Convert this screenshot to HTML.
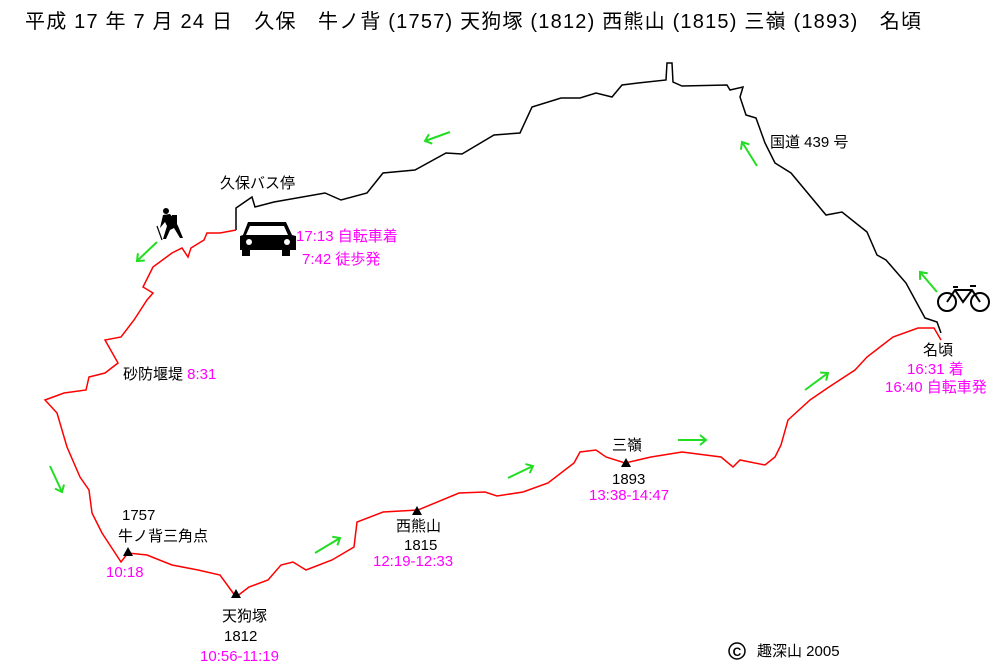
<!DOCTYPE html>
<html><head><meta charset="utf-8"><style>
html,body{margin:0;padding:0;background:#fff;}
#c{position:relative;width:1000px;height:666px;overflow:hidden;font-family:"Liberation Sans","Noto Sans CJK JP",sans-serif;}
.t{position:absolute;font-size:15px;line-height:17px;white-space:nowrap;color:#000;}
.m{color:#f0f;}
svg{position:absolute;left:0;top:0;}
</style></head><body><div id="c">
<svg width="1000" height="666">
<defs><marker id="a" markerUnits="userSpaceOnUse" markerWidth="12" markerHeight="12" refX="9" refY="6" orient="auto"><path d="M3,1 L9,6 L3,11" fill="none" stroke="#2d2" stroke-width="2"/></marker></defs>
<polyline fill="none" stroke="#000" stroke-width="1.5" points="236,230 236,208 252,197 255,207 274,202 325,193 341,200 367,193 383,173 415,170 446,153 462,154 494,135 520,133 532,107 561,98 580,98 596,93 612,97 622,85 638,83 666,80 667,63 672,63 673,82 682,86 727,85 730,90 743,87 740,97 746,115 756,118 765,143 775,163 791,173 826,215 842,212 867,232 877,255 886,260 906,283 925,318 937,322 941,333"/>
<polyline fill="none" stroke="#f00" stroke-width="1.5" points="236,230 220,233 207,233 204,240 191,248 188,257 182,248 172,253 153,267 143,287 153,293 147,300 134,320 121,337 105,340 118,363 105,373 89,377 86,390 64,393 45,400 57,413 67,447 80,477 89,490 92,513 102,533 121,562 128,553 147,555 172,565 198,570 220,575 236,597 249,587 268,580 281,565 293,562 306,570 332,560 354,547 357,522 383,512 418,510 459,493 485,492 497,496 523,492 548,483 574,463 580,452 596,450 606,457 625,463 651,457 682,452 721,457 733,467 740,460 765,465 775,457 781,445 788,420 810,400 829,387 855,370 867,357 880,347 893,337 918,328 934,328 941,340"/>
<g stroke="#2d2" stroke-width="2" fill="none">
<line x2="425" y2="141" x1="450" y1="132" marker-end="url(#a)"/>
<line x2="137" y2="261" x1="157" y1="242" marker-end="url(#a)"/>
<line x2="62" y2="492" x1="50" y1="466" marker-end="url(#a)"/>
<line x2="340" y2="538" x1="315" y1="553" marker-end="url(#a)"/>
<line x2="533" y2="466" x1="508" y1="478" marker-end="url(#a)"/>
<line x2="706" y2="440" x1="678" y1="440" marker-end="url(#a)"/>
<line x2="828" y2="373" x1="805" y1="390" marker-end="url(#a)"/>
<line x2="742" y2="142" x1="757" y1="166" marker-end="url(#a)"/>
<line x2="920" y2="272" x1="937" y1="292" marker-end="url(#a)"/>
</g>
<g fill="#000">
<polygon points="128,547 123,556 133,556"/><polygon points="236,589 231,598 241,598"/><polygon points="417,506 412,515 422,515"/><polygon points="626,458 621,467 631,467"/>
<path d="M248,222 L286,222 L292,235 L296,236 L296,250 L240,250 L240,236 L243,235 Z"/>
<rect x="242" y="250" width="8" height="6"/><rect x="282" y="250" width="8" height="6"/>
<path d="M250,226 L284,226 L288,235 L246,235 Z" fill="#fff"/>
<circle cx="249" cy="242" r="3" fill="#fff"/><circle cx="287" cy="242" r="3" fill="#fff"/>
<circle cx="166" cy="211" r="3"/>
<path d="M163,215 L170,214 L175,220 L178,226 L183,238 L180,238 L174,228 L170,230 L166,239 L163,239 L167,226 L165,222 L160,228 Z"/>
<rect x="172" y="215" width="5" height="9"/>
<line x1="157" y1="226" x2="162" y2="240" stroke="#000" stroke-width="1.2"/>
</g>
<g fill="none" stroke="#000" stroke-width="2">
<circle cx="947" cy="302" r="9"/><circle cx="980" cy="302" r="9"/>
<path d="M947,302 L955,290 L972,290 L980,302 M955,290 L963,302 L972,290 M953,287 L958,287 M970,286 L976,286"/>
</g>
<circle cx="737" cy="651" r="8" fill="none" stroke="#000" stroke-width="1.5"/>
<text x="737" y="656" font-size="12" text-anchor="middle" font-family="Liberation Sans" font-weight="bold">C</text>
</svg>
<div class="t" style="left:25px;top:10px;font-size:20px;line-height:24px;letter-spacing:1.2px;">平成 17 年 7 月 24 日　久保　牛ノ背 (1757) 天狗塚 (1812) 西熊山 (1815) 三嶺 (1893)　名頃</div>
<div class="t" style="left:220px;top:175px;">久保バス停</div>
<div class="t m" style="left:296px;top:228px;">17:13 自転車着</div>
<div class="t m" style="left:302px;top:251px;">7:42 徒歩発</div>
<div class="t" style="left:770px;top:134px;">国道 439 号</div>
<div class="t" style="left:123px;top:366px;">砂防堰堤 <span class="m">8:31</span></div>
<div class="t" style="left:923px;top:342px;">名頃</div>
<div class="t m" style="left:907px;top:361px;">16:31 着</div>
<div class="t m" style="left:885px;top:379px;">16:40 自転車発</div>
<div class="t" style="left:612px;top:437px;">三嶺</div>
<div class="t" style="left:612px;top:471px;">1893</div>
<div class="t m" style="left:589px;top:487px;">13:38-14:47</div>
<div class="t" style="left:122px;top:507px;">1757</div>
<div class="t" style="left:118px;top:528px;">牛ノ背三角点</div>
<div class="t m" style="left:106px;top:564px;">10:18</div>
<div class="t" style="left:396px;top:518px;">西熊山</div>
<div class="t" style="left:404px;top:537px;">1815</div>
<div class="t m" style="left:373px;top:553px;">12:19-12:33</div>
<div class="t" style="left:222px;top:608px;">天狗塚</div>
<div class="t" style="left:224px;top:628px;">1812</div>
<div class="t m" style="left:200px;top:648px;">10:56-11:19</div>
<div class="t" style="left:757px;top:643px;">趣深山 2005</div>
</div></body></html>
